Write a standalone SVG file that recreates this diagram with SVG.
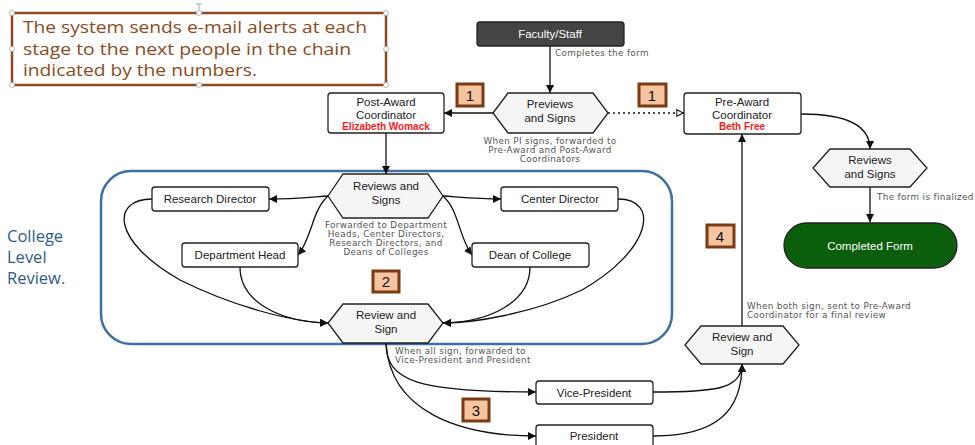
<svg xmlns="http://www.w3.org/2000/svg" width="975" height="445" viewBox="0 0 975 445">
<defs>
<style>
.box{fill:#fff;stroke:#222;stroke-width:1.3}
.hex{fill:#f5f5f5;stroke:#222;stroke-width:1.3}
.t{font-family:"Liberation Sans",Arial,sans-serif;font-size:11.5px;fill:#222;text-anchor:middle}
.red{font-family:"Liberation Sans",Arial,sans-serif;font-size:10px;font-weight:bold;fill:#ff1a1a;text-anchor:middle}
.lbl{font-family:"DejaVu Sans",sans-serif;font-size:8.8px;letter-spacing:0.35px;fill:#555}
.c{fill:none;stroke:#111;stroke-width:1.3}
.badge rect{fill:#f6c4a0;stroke:#7a3a12;stroke-width:3}
.badge text{font-family:"Liberation Sans",Arial,sans-serif;font-size:15px;fill:#111;text-anchor:middle}
.note{font-family:"Open Sans",Lato,sans-serif;font-size:16px;fill:#8b4a1c}
.blue{font-family:"Open Sans",Lato,sans-serif;font-size:16.5px;fill:#2e5c8a}
.h{fill:#fff;stroke:#aaa;stroke-width:0.8}
</style>
<marker id="a" viewBox="0 0 10 10" refX="10" refY="5" markerWidth="8" markerHeight="8" markerUnits="userSpaceOnUse" orient="auto">
<path d="M0,0 L10,5 L0,10 z" fill="#111"/>
</marker>
<marker id="o" viewBox="0 0 10 10" refX="10" refY="5" markerWidth="8" markerHeight="8" markerUnits="userSpaceOnUse" orient="auto">
<path d="M1,1 L9,5 L1,9 z" fill="#fff" stroke="#111" stroke-width="1.3"/>
</marker>
</defs>
<rect width="975" height="445" fill="#fff"/>

<g id="note">
<rect x="12" y="13" width="374" height="72" fill="#fff" stroke="#8a4b22" stroke-width="2.5"/>
<text class="note" x="23" y="33" textLength="344" lengthAdjust="spacingAndGlyphs">The system sends e-mail alerts at each</text>
<text class="note" x="23" y="55" textLength="328" lengthAdjust="spacingAndGlyphs">stage to the next people in the chain</text>
<text class="note" x="23" y="76" textLength="234" lengthAdjust="spacingAndGlyphs">indicated by the numbers.</text>
<circle class="h" cx="12" cy="13" r="2.5"/><circle class="h" cx="199" cy="13" r="2.5"/><circle class="h" cx="386" cy="13" r="2.5"/>
<circle class="h" cx="12" cy="49" r="2.5"/><circle class="h" cx="386" cy="49" r="2.5"/>
<circle class="h" cx="12" cy="85" r="2.5"/><circle class="h" cx="199" cy="85" r="2.5"/><circle class="h" cx="386" cy="85" r="2.5"/>
<path d="M199,4 V10 M196,4 H202" stroke="#aaa" stroke-width="1"/>
</g>

<g id="college-label">
<text class="blue" x="7" y="242">College</text>
<text class="blue" x="7" y="263">Level</text>
<text class="blue" x="7" y="284">Review.</text>
</g>

<g id="college-group">
<rect x="101" y="171" width="571" height="173" rx="30" ry="30" fill="none" stroke="#3d6fa0" stroke-width="2.5"/>
</g>

<g id="connectors">
<path class="c" d="M550,46 V93" marker-end="url(#a)"/>
<path class="c" d="M493,113 H444" marker-end="url(#a)"/>
<path class="c" d="M608,113 H684" stroke-dasharray="2,3" marker-end="url(#o)"/>
<path class="c" d="M801,114 C845,114 870,125 870,149" marker-end="url(#a)"/>
<path class="c" d="M870,187 V222" marker-end="url(#a)"/>
<path class="c" d="M386,133 V174" marker-end="url(#a)"/>
<path class="c" d="M328,196 C300,198 290,199 269,199" marker-end="url(#a)"/>
<path class="c" d="M328,196 C312,210 312,238 298,255" marker-end="url(#a)"/>
<path class="c" d="M443,196 C471,198 481,199 501,199" marker-end="url(#a)"/>
<path class="c" d="M443,196 C459,210 459,238 472,255" marker-end="url(#a)"/>
<path class="c" d="M152,199 C112,199 110,240 180,280 C230,305 290,322 328,323" marker-end="url(#a)"/>
<path class="c" d="M240,267 C240,302 280,322 328,323" marker-end="url(#a)"/>
<path class="c" d="M618,199 C660,199 652,250 582,290 C532,314 472,323 443,323" marker-end="url(#a)"/>
<path class="c" d="M530,267 C530,302 490,322 443,323" marker-end="url(#a)"/>
<path class="c" d="M386,343 C386,382 420,392 536,392" marker-end="url(#a)"/>
<path class="c" d="M386,343 C390,412 460,436 536,436" marker-end="url(#a)"/>
<path class="c" d="M653,392 C712,392 742,390 742,364" marker-end="url(#a)"/>
<path class="c" d="M653,436 C718,436 742,410 742,364" marker-end="url(#a)"/>
<path class="c" d="M742,326 V134" marker-end="url(#a)"/>
<text class="lbl" x="555" y="56">Completes the form</text>
<text class="lbl" x="550" y="144" text-anchor="middle">When PI signs, forwarded to</text>
<text class="lbl" x="550" y="153" text-anchor="middle">Pre-Award and Post-Award</text>
<text class="lbl" x="550" y="162" text-anchor="middle">Coordinators</text>
<text class="lbl" x="877" y="200">The form is finalized</text>
<text class="lbl" x="386" y="228" text-anchor="middle">Forwarded to Department</text>
<text class="lbl" x="386" y="237" text-anchor="middle">Heads, Center Directors,</text>
<text class="lbl" x="386" y="246" text-anchor="middle">Research Directors, and</text>
<text class="lbl" x="386" y="255" text-anchor="middle">Deans of Colleges</text>
<text class="lbl" x="395" y="354">When all sign, forwarded to</text>
<text class="lbl" x="395" y="363">Vice-President and President</text>
<text class="lbl" x="747" y="309">When both sign, sent to Pre-Award</text>
<text class="lbl" x="747" y="318">Coordinator for a final review</text>
</g>

<g id="faculty">
<rect x="477" y="22" width="147" height="24" rx="3" fill="#444" stroke="#222" stroke-width="1.3"/>
<text class="t" x="550" y="38" style="fill:#fff">Faculty/Staff</text>
</g>

<g id="previews">
<polygon class="hex" points="493,113 508,93 593,93 608,113 593,133 508,133"/>
<text class="t" x="550" y="108">Previews</text>
<text class="t" x="550" y="122">and Signs</text>
</g>

<g id="post-award">
<rect class="box" x="328" y="93" width="116" height="40" rx="3"/>
<text class="t" x="386" y="106">Post-Award</text>
<text class="t" x="386" y="119">Coordinator</text>
<text class="red" x="386" y="130">Elizabeth Womack</text>
</g>

<g id="pre-award">
<rect class="box" x="684" y="93" width="117" height="41" rx="3"/>
<text class="t" x="742" y="106">Pre-Award</text>
<text class="t" x="742" y="119">Coordinator</text>
<text class="red" x="742" y="130">Beth Free</text>
</g>

<g id="reviews-final">
<polygon class="hex" points="813,168 830,149 910,149 927,168 910,187 830,187"/>
<text class="t" x="870" y="164">Reviews</text>
<text class="t" x="870" y="178">and Signs</text>
</g>

<g id="completed">
<rect x="784" y="223" width="173" height="45" rx="22.5" fill="#0b5e0b" stroke="#222" stroke-width="1.3"/>
<text class="t" x="870" y="250" style="fill:#fff">Completed Form</text>
</g>

<g id="reviews-college">
<polygon class="hex" points="328,196 343,174 428,174 443,196 428,218 343,218"/>
<text class="t" x="386" y="190">Reviews and</text>
<text class="t" x="386" y="204">Signs</text>
</g>

<g id="research-director">
<rect class="box" x="152" y="187" width="117" height="24" rx="3"/>
<text class="t" x="210" y="203">Research Director</text>
</g>

<g id="department-head">
<rect class="box" x="182" y="243" width="116" height="24" rx="3"/>
<text class="t" x="240" y="259">Department Head</text>
</g>

<g id="center-director">
<rect class="box" x="501" y="187" width="117" height="24" rx="3"/>
<text class="t" x="560" y="203">Center Director</text>
</g>

<g id="dean">
<rect class="box" x="472" y="243" width="117" height="24" rx="3"/>
<text class="t" x="530" y="259">Dean of College</text>
</g>

<g id="review-college">
<polygon class="hex" points="328,323 343,304 428,304 443,323 428,343 343,343"/>
<text class="t" x="386" y="319">Review and</text>
<text class="t" x="386" y="333">Sign</text>
</g>

<g id="vice-president">
<rect class="box" x="536" y="381" width="117" height="23" rx="3"/>
<text class="t" x="594" y="397">Vice-President</text>
</g>

<g id="president">
<rect class="box" x="536" y="425" width="117" height="26" rx="3"/>
<text class="t" x="594" y="440">President</text>
</g>

<g id="review-final">
<polygon class="hex" points="685,345 701,326 783,326 799,345 783,364 701,364"/>
<text class="t" x="742" y="341">Review and</text>
<text class="t" x="742" y="355">Sign</text>
</g>

<g id="badge-1a" class="badge"><rect x="457" y="84" width="26" height="22"/><text x="470" y="101">1</text></g>
<g id="badge-1b" class="badge"><rect x="639" y="84" width="27" height="22"/><text x="652" y="101">1</text></g>
<g id="badge-2" class="badge"><rect x="373" y="271" width="26" height="21"/><text x="386" y="287">2</text></g>
<g id="badge-3" class="badge"><rect x="463" y="399" width="26" height="22"/><text x="476" y="416">3</text></g>
<g id="badge-4" class="badge"><rect x="707" y="225" width="27" height="22"/><text x="720" y="242">4</text></g>
</svg>
